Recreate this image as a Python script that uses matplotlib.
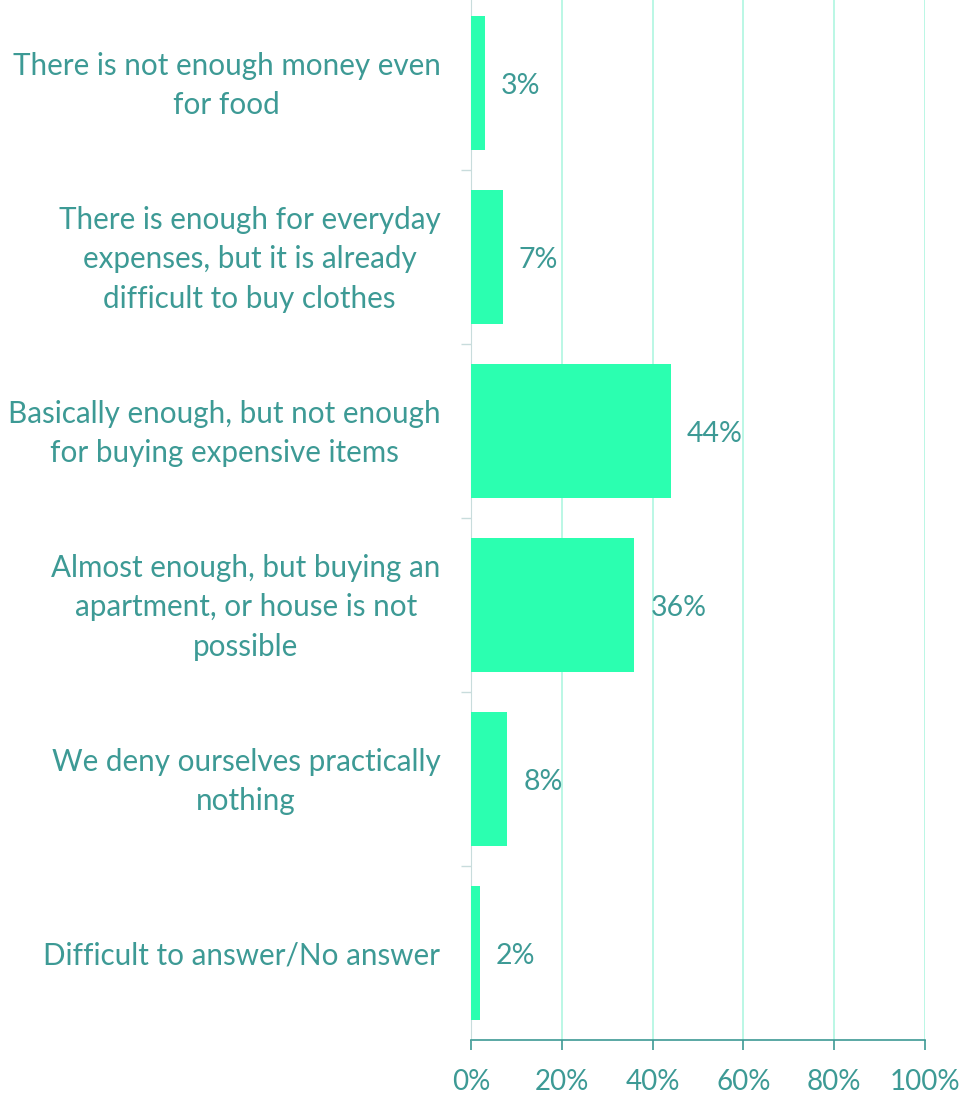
import matplotlib.pyplot as plt
import matplotlib.transforms as mtransforms
from matplotlib.ticker import FuncFormatter

categories = [
    "There is not enough money even\nfor food",
    "There is enough for everyday\nexpenses, but it is already\ndifficult to buy clothes",
    "Basically enough, but not enough\nfor buying expensive items",
    "Almost enough, but buying an\napartment, or house is not\npossible",
    "We deny ourselves practically\nnothing",
    "Difficult to answer/No answer",
]
values = [3, 7, 44, 36, 8, 2]
x_ticks = [0, 20, 40, 60, 80, 100]

TEXT = "#3D9A95"
BAR = "#2BFFB0"
GRID = "#B5F7E3"

plt.rcParams['font.family'] = ['Lato', 'DejaVu Sans']

fig = plt.figure(figsize=(9.71, 11.03), dpi=100)
ax = fig.add_axes([471 / 971, 63 / 1103, 454 / 971, 1044 / 1103])

pos = list(range(len(categories)))
ax.barh(pos, values, height=0.765, color=BAR, zorder=3)

for p, v in zip(pos, values):
    ax.annotate(f"{v}%", (v, p), xytext=(16, -3), textcoords="offset pixels",
                ha="left", va="center", fontsize=20.5, color=TEXT)

ax.set_xlim(0, 100)
ax.set_ylim(len(categories) - 0.5, -0.5)
ax.set_xticks(x_ticks)
ax.xaxis.set_major_formatter(FuncFormatter(lambda x, _: f"{x:.0f}%"))
ax.tick_params(axis="x", colors=TEXT, labelsize=20, length=7, width=1.2, pad=14)

ax.set_yticks(pos)
ax.set_yticklabels(categories, fontsize=21.3, color=TEXT, linespacing=1.52,
                   multialignment="center")
ax.tick_params(axis="y", length=0, pad=22)
# nudge multi-line category labels up a little
for lbl in ax.get_yticklabels():
    dy = 6 if "\n" in lbl.get_text() else 0
    shift = mtransforms.ScaledTranslation(0, dy / 100, fig.dpi_scale_trans)
    lbl.set_transform(lbl.get_transform() + shift)
ax.set_yticks([p + 0.5 for p in pos[:-1]], minor=True)
ax.tick_params(axis="y", which="minor", length=7, color="#C8DCDC", width=1)

ax.grid(axis="x", color=GRID, linewidth=1.3, zorder=0)
for s in ["top", "right"]:
    ax.spines[s].set_visible(False)
ax.spines["left"].set_color("#C8DCDC")
ax.spines["bottom"].set_color(TEXT)
ax.spines["bottom"].set_linewidth(1.2)

plt.savefig("out.png", dpi=100)
